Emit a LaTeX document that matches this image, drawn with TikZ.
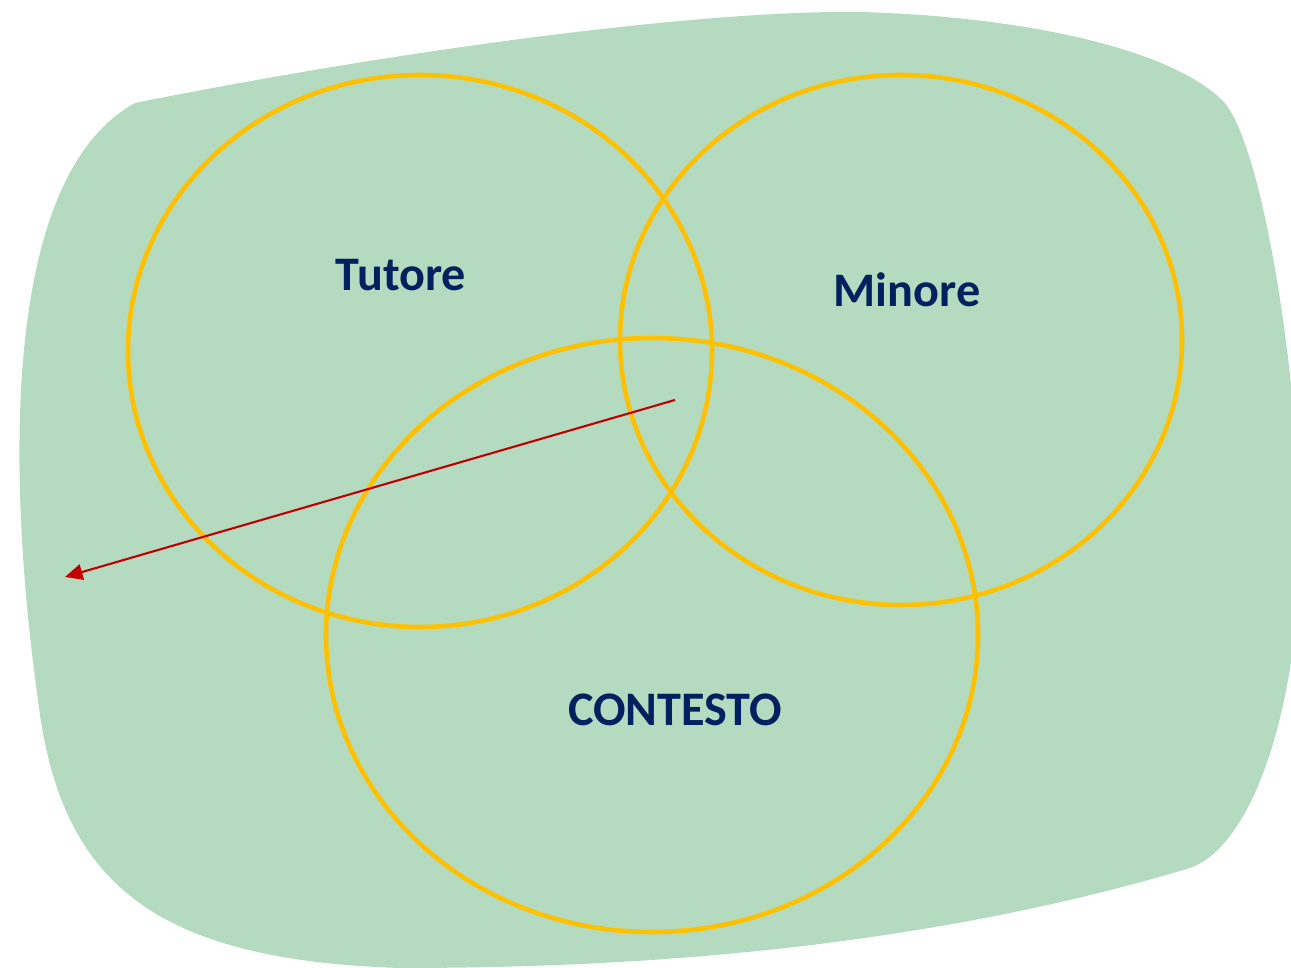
\documentclass[tikz,border=0pt]{standalone}
\usepackage{fontspec}
\setmainfont{Carlito}
\usepackage{xcolor}
\usetikzlibrary{arrows.meta}

\definecolor{blobgreen}{HTML}{B4DBC0}
\definecolor{ringyellow}{HTML}{FFC000}
\definecolor{textnavy}{HTML}{002060}
\definecolor{arrowred}{HTML}{C00000}

\begin{document}
\begin{tikzpicture}[
    x=0.01cm,y=-0.01cm,
    every node/.style={font=\fontsize{13.7}{16}\selectfont\bfseries,text=textnavy},
    ring/.style={draw=ringyellow,line width=1.3pt},
    setname/.style={inner sep=0pt},
    pointer/.style={draw=arrowred,line width=0.6pt,-{Triangle[length=5pt,width=4.5pt]}}
]
\useasboundingbox (0,0) rectangle (1291,968);
\clip (0,0) rectangle (1291,968);

% Green background blob
\fill[blobgreen] (135,103)
    .. controls (400,50) and (700,10) .. (860,12)
    .. controls (1010,16) and (1165,45) .. (1222,100)
    .. controls (1262,139) and (1300,380) .. (1300,540)
    .. controls (1300,700) and (1255,845) .. (1190,868)
    .. controls (900,955) and (600,968) .. (400,968)
    .. controls (150,960) and (60,880) .. (38,700)
    .. controls (10,500) and (-5,180) .. (135,103) -- cycle;

% The three sets
\draw[ring] (420,351) ellipse [x radius=292,y radius=276];
\draw[ring] (901,340) ellipse [x radius=281,y radius=265];
\draw[ring] (652,635) ellipse [x radius=326,y radius=297];

% Set names
\node[setname] (tutore)   at (401,275) {Tutore};
\node[setname] (minore)   at (907,290) {Minore};
\node[setname] (contesto) at (675,710) {CONTESTO};

% Arrow out of the centre
\coordinate (centre) at (675,400);
\coordinate (outside) at (65,577);
\draw[pointer] (centre) -- (outside);

\end{tikzpicture}
\end{document}
